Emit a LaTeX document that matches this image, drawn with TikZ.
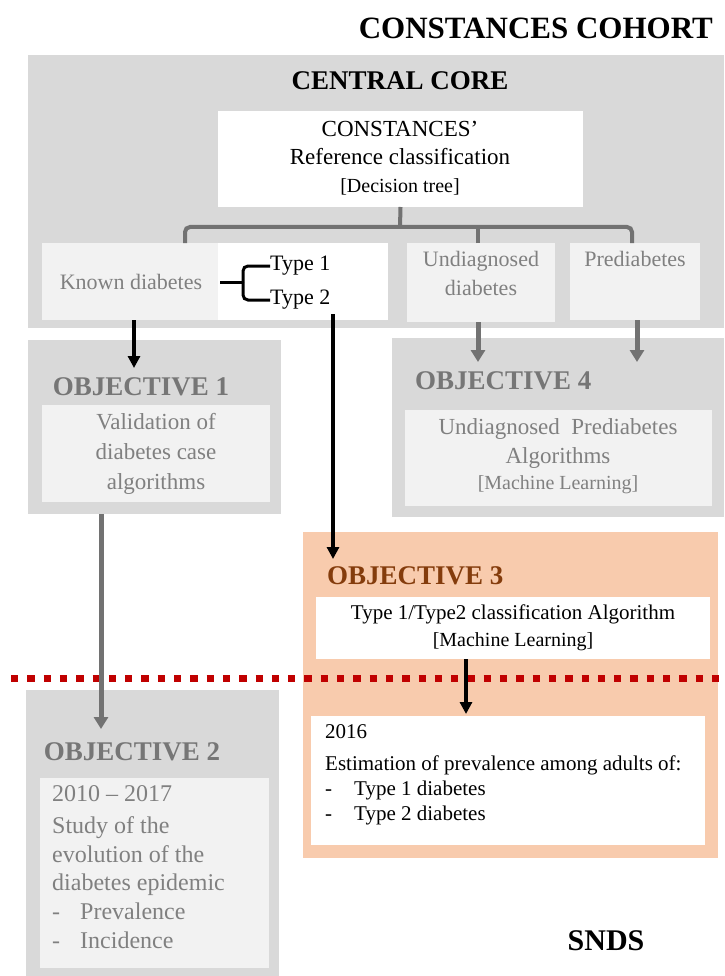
\documentclass[tikz,border=0pt]{standalone}
\usepackage{fontspec}
\setmainfont{Liberation Serif}
\usetikzlibrary{arrows.meta,calc}
\definecolor{outergray}{HTML}{D9D9D9}
\definecolor{innergray}{HTML}{F2F2F2}
\definecolor{txtgray}{HTML}{808080}
\definecolor{headgray}{HTML}{767676}
\definecolor{linegray}{HTML}{727272}
\definecolor{peach}{HTML}{F8CBAD}
\definecolor{objbrown}{HTML}{843C0C}
\definecolor{dotred}{HTML}{C00000}
\newcommand\myfs[2]{\fontsize{#1}{#2}\selectfont}
\begin{document}
\begin{tikzpicture}[x=1pt,y=-1pt,
  panel/.style={draw=none,inner sep=0pt,outer sep=0pt,anchor=north west},
  heading/.style={font=\bfseries\myfs{27}{30},text=headgray,inner sep=0pt},
  graytext/.style={font=\myfs{22}{29},text=txtgray,inner sep=0pt,align=center},
  blacktext/.style={font=\myfs{21}{27},text=black,inner sep=0pt,align=center},
  grayarrow/.style={draw=linegray,line width=5pt,-{Triangle[width=14pt,length=12pt]}},
  blackarrow/.style={draw=black,line width=4pt,-{Triangle[width=12pt,length=12pt]}},
  treeline/.style={draw=linegray,line width=4pt,rounded corners=5pt},
  bracestyle/.style={draw=black,line width=3pt,rounded corners=5pt}]
\useasboundingbox (0,0) rectangle (724,976);
\fill[white] (0,0) rectangle (724,976);

% title
\node[font=\bfseries\myfs{31}{34},anchor=east,inner sep=0pt] (title) at (713,28) {CONSTANCES COHORT};

% central core
\node[panel,fill=outergray,minimum width=696pt,minimum height=273pt] (core) at (28,55) {};
\node[font=\bfseries\myfs{27}{30},inner sep=0pt] (coret) at (400,81) {CENTRAL CORE};
\node[panel,fill=white,minimum width=365pt,minimum height=96pt] (ref) at (218,111) {};
\node[font=\myfs{23}{28},inner sep=0pt,align=center] (reft) at (400,158)
  {CONSTANCES’\\Reference classification\\{\myfs{20}{26}[Decision tree]}};

\node[panel,fill=innergray,minimum width=177pt,minimum height=77pt] (kdl) at (42,243) {};
\node[panel,fill=white,minimum width=170pt,minimum height=77pt] (kd) at (218,243) {};
\node[graytext] (kdt) at (131,282) {Known diabetes};
\node[font=\myfs{22}{26},inner sep=0pt,anchor=west] (t1) at (270,266) {Type 1};
\node[font=\myfs{22}{26},inner sep=0pt,anchor=west] (t2) at (270,300) {Type 2};

\node[panel,fill=innergray,minimum width=148pt,minimum height=79pt] (ud) at (407,243) {};
\node[graytext,anchor=north] (udt) at (481,251) {Undiagnosed\\diabetes};
\node[panel,fill=innergray,minimum width=130pt,minimum height=77pt] (pd) at (570,243) {};
\node[graytext,anchor=north] (pdt) at (635,251) {Prediabetes};

% tree
\coordinate (hb) at (400,227);
\draw[treeline] (ref.south) -- (hb);
\draw[treeline] (185,243) |- (hb) -| (632,243);
\draw[treeline] (478,243) -- (478,227);

% brace
\coordinate (br) at (243,282);
\draw[bracestyle] (t1.west) -| (br);
\draw[bracestyle] (t2.west) -| (br);
\draw[bracestyle] (br) -- ++(-23,0);

% objective 1
\node[panel,fill=outergray,minimum width=253pt,minimum height=174pt] (o1) at (28,340) {};
\node[heading] (o1h) at (141,387) {OBJECTIVE 1};
\node[panel,fill=innergray,minimum width=228pt,minimum height=97pt] (o1b) at (42,405) {};
\node[graytext,font=\myfs{23}{30}] (o1t) at (156,454) {Validation of\\diabetes case\\algorithms};

% objective 4
\node[panel,fill=outergray,minimum width=332pt,minimum height=179pt] (o4) at (392,338) {};
\node[heading,anchor=west] (o4h) at (415,381) {OBJECTIVE 4};
\node[panel,fill=innergray,minimum width=307pt,minimum height=96pt] (o4b) at (405,410) {};
\node[graytext,font=\myfs{23}{29}] (o4t) at (558,456)
  {Undiagnosed\ \ Prediabetes\\Algorithms\\[-3pt]{\myfs{20}{25}[Machine Learning]}};

% objective 3
\node[panel,fill=peach,minimum width=415pt,minimum height=326pt] (o3) at (303,532) {};
\node[heading,text=objbrown,anchor=west] (o3h) at (327,576) {OBJECTIVE 3};
\node[panel,fill=white,minimum width=394pt,minimum height=62pt] (o3b) at (316,597) {};
\node[blacktext] (o3t) at (513,628) {Type 1/Type2 classification Algorithm\\{\myfs{20}{27}[Machine Learning]}};
\node[panel,fill=white,minimum width=394pt,minimum height=129pt] (o3c) at (311,716) {};
\node[font=\myfs{21}{25},inner sep=0pt,anchor=north west,align=left] (o3ct) at (325,724)
  {2016\\[7pt]Estimation of prevalence among adults of:\\\makebox[29pt][l]{-}Type 1 diabetes\\\makebox[29pt][l]{-}Type 2 diabetes};

% objective 2
\node[panel,fill=outergray,minimum width=253pt,minimum height=286pt] (o2) at (26,690) {};
\node[heading] (o2h) at (132,752) {OBJECTIVE 2};
\node[panel,fill=innergray,minimum width=229pt,minimum height=190pt] (o2b) at (40,778) {};
\node[font=\myfs{24}{28.6},text=txtgray,inner sep=0pt,anchor=north west,align=left] (o2t) at (52,785)
  {2010 – 2017\\[4pt]Study of the\\evolution of the\\diabetes epidemic\\\makebox[28pt][l]{-}Prevalence\\\makebox[28pt][l]{-}Incidence};

% SNDS
\node[font=\bfseries\myfs{30}{34},inner sep=0pt] (snds) at (606,941) {SNDS};

% red dotted boundary
\coordinate (dl) at (11,678);
\coordinate (dr) at (724,678);
\draw[dotred,line width=7pt,dash pattern=on 7.3pt off 9pt] (dl) -- (dr);

% arrows
\coordinate (a1s) at (134,320);
\coordinate (a1e) at (134,368);
\draw[blackarrow] (a1s) -- (a1e);
\coordinate (a3s) at (333,314);
\coordinate (a3e) at (333,559);
\draw[blackarrow] (a3s) -- (a3e);
\coordinate (u1e) at (478,362);
\draw[grayarrow] (ud.south -| u1e) -- (u1e);
\coordinate (p1e) at (637,362);
\draw[grayarrow] (pd.south -| p1e) -- (p1e);
\coordinate (o2e) at (101,729);
\draw[grayarrow] (o1.south -| o2e) -- (o2e);
\coordinate (o3e) at (466,714);
\draw[blackarrow] (o3b.south -| o3e) -- (o3e);
\end{tikzpicture}
\end{document}
